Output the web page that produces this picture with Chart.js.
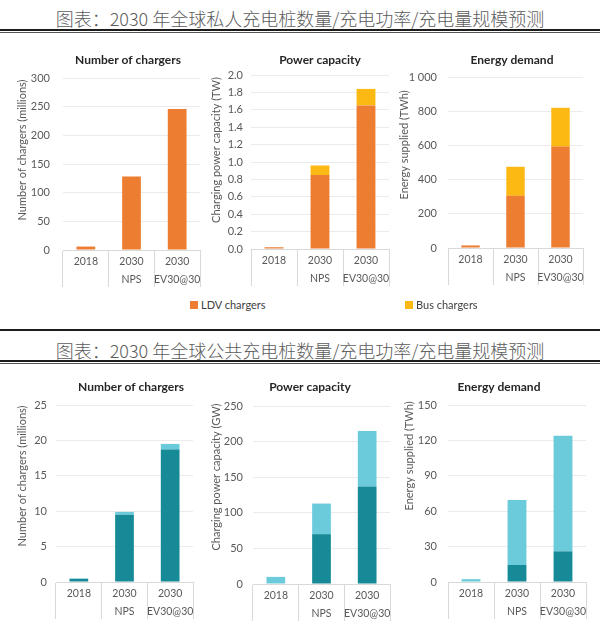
<!DOCTYPE html>
<html><head><meta charset="utf-8">
<script src="https://cdn.jsdelivr.net/npm/chart.js@4.4.1/dist/chart.umd.min.js"></script>
<style>
html,body{margin:0;padding:0;background:#fff}
body{width:600px;height:632px;position:relative;overflow:hidden;font-family:Lato,sans-serif}
.hdr{position:absolute;left:0;width:600px;text-align:center;font-family:"Noto Sans CJK SC",sans-serif;font-size:18px;line-height:22px;color:#5c5c5c;font-weight:300}
.rule{position:absolute;left:0;width:600px;background:#1c1c1c}
.panel{position:absolute}
.legend{position:absolute;font-family:Lato,sans-serif;font-size:11px;color:#404040;line-height:14px;white-space:nowrap}
.legend i{display:inline-block;width:8px;height:8px;margin-right:3px;vertical-align:-0px}
</style>
</head><body>
<div class="hdr" style="top:7px">图表：2030 年全球私人充电桩数量/充电功率/充电量规模预测</div>
<div class="rule" style="top:29px;height:2px"></div>
<div class="rule" style="top:32px;height:1px;background:#555"></div>
<div class="rule" style="top:329px;height:2px"></div>
<div class="hdr" style="top:339px">图表：2030 年全球公共充电桩数量/充电功率/充电量规模预测</div>
<div class="rule" style="top:360px;height:2px"></div>
<div class="rule" style="top:363px;height:1px;background:#555"></div>
<div id="panels"></div>
<div class="legend" id="legTop" style="top:298px;left:0"></div>
<script>
// ---- data ----
const categories = [["2018",""],["2030","NPS"],["2030","EV30@30"]];
const panelTitles = ["Number of chargers","Power capacity","Energy demand"];

const privateSeries = ["LDV chargers","Bus chargers"];
const privateColors = ["#ED7D31","#FDB913"];
const privateYTitles = ["Number of chargers (millions)","Charging power capacity (TW)","Energy supplied (TWh)"];
const privateCountLDV = [6, 128, 246];
const privateCountBus = [0, 0, 0];
const privatePowerLDV = [0.02, 0.85, 1.65];
const privatePowerBus = [0, 0.11, 0.19];
const privateEnergyLDV = [15, 305, 593];
const privateEnergyBus = [0, 170, 227];
const privateYMax = [300, 2.0, 1000];
const privateYStep = [50, 0.2, 200];

const publicSeries = ["Slow chargers","Fast chargers"];
const publicColors = ["#178A97","#6CCBDB"];
const publicYTitles = ["Number of chargers (millions)","Charging power capacity (GW)","Energy supplied (TWh)"];
const publicCountSlow = [0.45, 9.5, 18.7];
const publicCountFast = [0.05, 0.4, 0.8];
const publicPowerSlow = [0, 70, 137];
const publicPowerFast = [10, 43, 78];
const publicEnergySlow = [0, 14.4, 26];
const publicEnergyFast = [2.4, 55, 98];
const publicYMax = [25, 250, 150];
const publicYStep = [5, 50, 30];

// ---- layout (page pixels) ----
const geom = [
  {plotL:63, plotR:200, plotT:78, plotB:250, yTitleX:22, yTitleY:150, titleX:128, titleY:60, gap:13},
  {plotL:251,plotR:389, plotT:75, plotB:249, yTitleX:216,yTitleY:150, titleX:320, titleY:60, gap:8},
  {plotL:448,plotR:583, plotT:77, plotB:248, yTitleX:404,yTitleY:145, titleX:512, titleY:60, gap:11},
  {plotL:56, plotR:193, plotT:405,plotB:582, yTitleX:22, yTitleY:476, titleX:131, titleY:387, gap:9},
  {plotL:253,plotR:390, plotT:406,plotB:584, yTitleX:216,yTitleY:477, titleX:310, titleY:387, gap:10},
  {plotL:448,plotR:586, plotT:405,plotB:582, yTitleX:409,yTitleY:456, titleX:499, titleY:387, gap:11}
];

const panelText = {
  id:'panelText',
  afterDraw(chart, args, o){
    const ctx = chart.ctx;
    ctx.save();
    ctx.textAlign='center'; ctx.textBaseline='middle';
    ctx.fillStyle='#262626'; ctx.font='bold 12px Lato';
    ctx.fillText(o.title, o.titleX, o.titleY);
    ctx.fillStyle='#595959'; ctx.font='11px Lato';
    ctx.translate(o.yTitleX, o.yTitleY); ctx.rotate(-Math.PI/2);
    ctx.fillText(o.yTitle, 0, 0);
    ctx.restore();
  }
};

function fmt(dec){
  return v => dec ? Number(v).toFixed(1) : String(Math.round(v)).replace(/\B(?=(\d{3})+(?!\d))/g,' ');
}

function makePanel(i, g, title, yTitle, names, colors, s1, s2, ymax, ystep, dec){
  const CL = g.yTitleX - 12, CT = g.titleY - 15;
  const W = g.plotR + 4 - CL, H = g.plotB + 40 - CT;
  const div = document.createElement('div');
  div.className='panel';
  div.style.cssText = `left:${CL}px;top:${CT}px;width:${W}px;height:${H}px`;
  const cv = document.createElement('canvas');
  div.appendChild(cv);
  document.getElementById('panels').appendChild(div);
  new Chart(cv, {
    type:'bar',
    data:{labels:categories, datasets:[
      {label:names[0], data:s1, backgroundColor:colors[0], barPercentage:0.41, categoryPercentage:1},
      {label:names[1], data:s2, backgroundColor:colors[1], barPercentage:0.41, categoryPercentage:1}
    ]},
    options:{
      responsive:true, maintainAspectRatio:false, animation:false,
      layout:{padding:{left:0,right:4,top:g.plotT-CT,bottom:0}},
      plugins:{legend:{display:false}, tooltip:{enabled:false}, title:{display:false},
        panelText:{title, yTitle, titleX:g.titleX-CL, titleY:g.titleY-CT, yTitleX:g.yTitleX-CL, yTitleY:g.yTitleY-CT}},
      scales:{
        x:{stacked:true,
           grid:{display:true, drawOnChartArea:false, drawTicks:true, tickLength:37, color:'#D9D9D9', offset:true},
           border:{display:true, color:'#D9D9D9'},
           ticks:{color:'#595959', font:{family:'Lato', size:10.5, lineHeight:1.72}, padding:-34, maxRotation:0, autoSkip:false},
           afterFit:s=>{s.height=40;}},
        y:{stacked:true, min:0, max:ymax,
           ticks:{stepSize:ystep, color:'#595959', font:{family:'Lato', size:11}, padding:g.gap, callback:fmt(dec)},
           grid:{color:'#EBEBEB', drawTicks:false},
           border:{display:false},
           afterFit:s=>{s.width=g.plotL-CL;}}
      }
    },
    plugins:[panelText]
  });
}

const privS1=[privateCountLDV,privatePowerLDV,privateEnergyLDV], privS2=[privateCountBus,privatePowerBus,privateEnergyBus];
const pubS1=[publicCountSlow,publicPowerSlow,publicEnergySlow], pubS2=[publicCountFast,publicPowerFast,publicEnergyFast];
for(let k=0;k<3;k++){
  makePanel(k, geom[k], panelTitles[k], privateYTitles[k], privateSeries, privateColors, privS1[k], privS2[k], privateYMax[k], privateYStep[k], k===1);
  makePanel(k+3, geom[k+3], panelTitles[k], publicYTitles[k], publicSeries, publicColors, pubS1[k], pubS2[k], publicYMax[k], publicYStep[k], false);
}

// legend (top block)
const legPos=[190,405];
const leg=document.getElementById('legTop');
privateSeries.forEach((n,j)=>{
  const s=document.createElement('span');
  s.style.cssText=`position:absolute;left:${legPos[j]}px;top:0`;
  s.innerHTML=`<i style="background:${privateColors[j]}"></i>${n}`;
  leg.appendChild(s);
});
</script>
</body></html>
